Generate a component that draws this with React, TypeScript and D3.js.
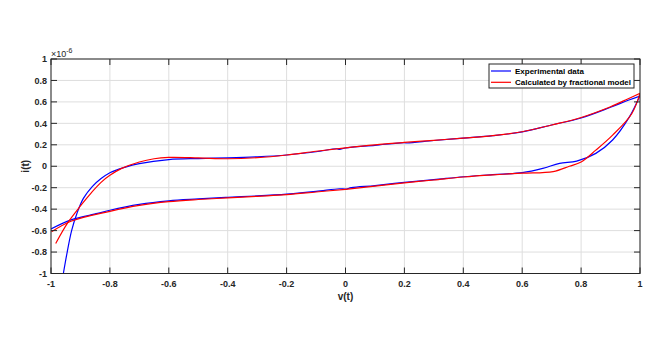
import React from "react";
import * as d3 from "d3";

const xTicks = [-1, -0.8, -0.6, -0.4, -0.2, 0, 0.2, 0.4, 0.6, 0.8, 1];
const yTicks = [-1, -0.8, -0.6, -0.4, -0.2, 0, 0.2, 0.4, 0.6, 0.8, 1];

const expUpper: [number, number][] = [
  [-0.958, -1.0], [-0.945, -0.8], [-0.93, -0.6], [-0.912, -0.44], [-0.89, -0.3],
  [-0.86, -0.19], [-0.83, -0.115], [-0.8, -0.06], [-0.75, -0.01], [-0.7, 0.025],
  [-0.6, 0.062], [-0.5, 0.072], [-0.4, 0.078], [-0.3, 0.088], [-0.2, 0.105],
  [-0.1, 0.135], [-0.03, 0.163], [-0.02, 0.158], [0, 0.17], [0.1, 0.195],
  [0.2, 0.22], [0.21, 0.217], [0.3, 0.24], [0.4, 0.262], [0.5, 0.285], [0.6, 0.32],
  [0.7, 0.385], [0.8, 0.45], [0.9, 0.55], [0.96, 0.615], [1.0, 0.655],
];

const expLower: [number, number][] = [
  [-1.0, -0.585], [-0.932, -0.5], [-0.842, -0.44], [-0.8, -0.41], [-0.7, -0.355],
  [-0.6, -0.322], [-0.5, -0.305], [-0.4, -0.29], [-0.3, -0.277], [-0.2, -0.26],
  [-0.1, -0.235], [-0.02, -0.21], [0, -0.213], [0.02, -0.2], [0.1, -0.18],
  [0.2, -0.15], [0.3, -0.125], [0.4, -0.098], [0.5, -0.078], [0.6, -0.06],
  [0.67, -0.02], [0.727, 0.027], [0.785, 0.048], [0.85, 0.12], [0.907, 0.245],
  [0.964, 0.46], [1.0, 0.66],
];

const modelUpper: [number, number][] = [
  [-0.984, -0.72], [-0.944, -0.53], [-0.9, -0.37], [-0.864, -0.25], [-0.83, -0.15],
  [-0.8, -0.085], [-0.76, -0.02], [-0.7, 0.04], [-0.65, 0.07], [-0.6, 0.082],
  [-0.5, 0.078], [-0.4, 0.07], [-0.3, 0.08], [-0.2, 0.105], [-0.1, 0.14],
  [0, 0.172], [0.1, 0.2], [0.2, 0.222], [0.3, 0.242], [0.4, 0.262], [0.5, 0.285],
  [0.6, 0.322], [0.7, 0.385], [0.8, 0.455], [0.9, 0.555], [0.96, 0.63], [1.0, 0.68],
];

const modelLower: [number, number][] = [
  [-0.998, -0.61], [-0.93, -0.51], [-0.8, -0.42], [-0.7, -0.365], [-0.6, -0.33],
  [-0.5, -0.31], [-0.4, -0.295], [-0.3, -0.28], [-0.2, -0.265], [-0.1, -0.24],
  [0, -0.215], [0.1, -0.185], [0.2, -0.155], [0.3, -0.128], [0.4, -0.1],
  [0.5, -0.08], [0.6, -0.065], [0.705, -0.05], [0.76, 0.0], [0.8, 0.04],
  [0.85, 0.15], [0.907, 0.29], [0.972, 0.49], [1.0, 0.68],
];

const legendLabels = ["Experimental data", "Calculated by fractional model"];
const colors = ["#0000ff", "#ff0000"];

const W = 664, H = 342;
const L = 51, R = 640, T = 59, B = 273.5;
const font = "'Liberation Sans', Arial, Helvetica, sans-serif";

export default function App() {
  const x = d3.scaleLinear().domain([-1, 1]).range([L, R]);
  const y = d3.scaleLinear().domain([-1, 1]).range([B, T]);
  const line = d3
    .line<[number, number]>()
    .x((d) => x(d[0]))
    .y((d) => y(d[1]))
    .curve(d3.curveCatmullRom.alpha(0.5));
  const tick = 6;
  const axisColor = "#262626";
  const fmt = (v: number) => (Math.abs(v) < 1e-9 ? "0" : String(+v.toFixed(1)));

  return (
    <svg width={W} height={H} style={{ position: "absolute", left: 0, top: 0, background: "#fff" }}>
      <defs>
        <clipPath id="plotclip">
          <rect x={L} y={T} width={R - L} height={B - T} />
        </clipPath>
      </defs>
      <rect x={0} y={0} width={W} height={H} fill="#fff" />
      <g stroke="#dedede" strokeWidth={1}>
        {xTicks.map((t) => (
          <line key={"gx" + t} x1={x(t)} x2={x(t)} y1={T} y2={B} />
        ))}
        {yTicks.map((t) => (
          <line key={"gy" + t} x1={L} x2={R} y1={y(t)} y2={y(t)} />
        ))}
      </g>
      <g clipPath="url(#plotclip)" fill="none" strokeWidth={1.2}>
        <path d={line(expUpper) || ""} stroke={colors[0]} />
        <path d={line(expLower) || ""} stroke={colors[0]} />
        <path d={line(modelUpper) || ""} stroke={colors[1]} />
        <path d={line(modelLower) || ""} stroke={colors[1]} />
      </g>
      <g stroke={axisColor} strokeWidth={1} fill="none">
        <rect x={L} y={T} width={R - L} height={B - T} />
        {xTicks.map((t) => (
          <g key={"tx" + t}>
            <line x1={x(t)} x2={x(t)} y1={B} y2={B - tick} />
            <line x1={x(t)} x2={x(t)} y1={T} y2={T + tick} />
          </g>
        ))}
        {yTicks.map((t) => (
          <g key={"ty" + t}>
            <line x1={L} x2={L + tick} y1={y(t)} y2={y(t)} />
            <line x1={R} x2={R - tick} y1={y(t)} y2={y(t)} />
          </g>
        ))}
      </g>
      <g fontFamily={font} fontSize={9} fontWeight="bold" fill={axisColor}>
        {xTicks.map((t) => (
          <text key={"lx" + t} x={x(t)} y={287} textAnchor="middle">
            {fmt(t)}
          </text>
        ))}
        {yTicks.map((t) => (
          <text key={"ly" + t} x={47} y={y(t) + 3.2} textAnchor="end">
            {fmt(t)}
          </text>
        ))}
        <text x={x(0)} y={300} textAnchor="middle" fontSize={10}>
          v(t)
        </text>
        <text
          transform={`translate(29, ${(T + B) / 2}) rotate(-90)`}
          textAnchor="middle"
          fontSize={10}
        >
          i(t)
        </text>
        <text x={51} y={56.5} fontWeight="normal" fontSize={9}>
          ×10
          <tspan fontSize={7} dy={-4}>-6</tspan>
        </text>
      </g>
      <g>
        <rect x={489} y={64} width={145} height={24} fill="#fff" stroke={axisColor} strokeWidth={1} />
        {legendLabels.map((lab, i) => (
          <g key={lab}>
            <line x1={491} x2={511} y1={71 + i * 11.3} y2={71 + i * 11.3} stroke={colors[i]} strokeWidth={1.2} />
            <text x={515} y={74 + i * 11.3} fontFamily={font} fontSize={8} fontWeight="bold" fill="#000">
              {lab}
            </text>
          </g>
        ))}
      </g>
    </svg>
  );
}
